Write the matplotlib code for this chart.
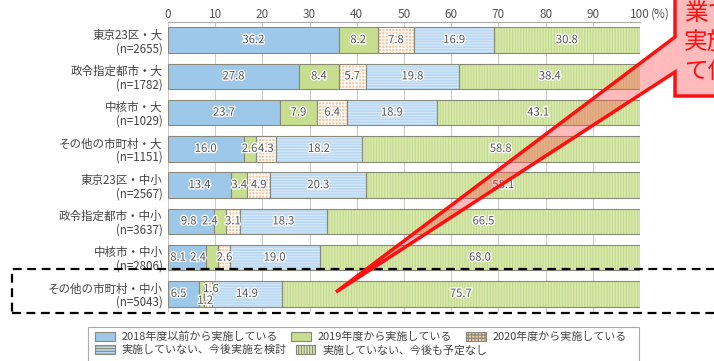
import numpy as np
import matplotlib
matplotlib.use('Agg')
import matplotlib.pyplot as plt
import matplotlib.patheffects as pe
from matplotlib.patches import Patch, Rectangle, Polygon

plt.rcParams['font.family'] = ['Noto Sans CJK JP', 'DejaVu Sans']
plt.rcParams['hatch.linewidth'] = 0.8

# data
categories = ['東京23区・大\n(n=2655)', '政令指定都市・大\n(n=1782)', '中核市・大\n(n=1029)',
              'その他の市町村・大\n(n=1151)', '東京23区・中小\n(n=2567)', '政令指定都市・中小\n(n=3637)',
              '中核市・中小\n(n=2806)', 'その他の市町村・中小\n(n=5043)']
series_names = ['2018年度以前から実施している', '2019年度から実施している', '2020年度から実施している',
                '実施していない、今後実施を検討', '実施していない、今後も予定なし']
s2018 = [36.2, 27.8, 23.7, 16.0, 13.4, 9.8, 8.1, 6.5]
s2019 = [8.2, 8.4, 7.9, 2.6, 3.4, 2.4, 2.4, 1.2]
s2020 = [7.8, 5.7, 6.4, 4.3, 4.9, 3.1, 2.6, 1.6]
s_plan = [16.9, 19.8, 18.9, 18.2, 20.3, 18.3, 19.0, 14.9]
s_none = [30.8, 38.4, 43.1, 58.8, 58.1, 66.5, 68.0, 75.7]
ticks = [0, 10, 20, 30, 40, 50, 60, 70, 80, 90, 100]

series = [s2018, s2019, s2020, s_plan, s_none]
faces = ['#9ec8ea', '#c6de8e', '#f6c8a2', '#b9d8f3', '#d9e9ae']
hatches = [None, None, '+++++', '------', '||||||']
hcolors = [None, None, '#ffffff', '#d6e8f8', '#c3da8c']

# small label nudges (row, series) -> (dx, dy) so narrow segments stay readable
nudges = {(5, 0): (-0.5, 0), (5, 1): (-2.1, 0),
          (6, 0): (-1.9, 0), (6, 1): (-2.9, 0), (6, 2): (0.2, 0),
          (7, 0): (-1.0, 0), (7, 1): (0.8, 0.19), (7, 2): (0.6, -0.13)}

fig = plt.figure(figsize=(7.14, 3.61), dpi=100)
ax = fig.add_axes([168/714, 1-312/361, 472/714, 290/361])

y = np.arange(len(categories))
left = np.zeros(len(categories))
txt_fx = [pe.withStroke(linewidth=2, foreground='white')]
for i, vals in enumerate(series):
    vals = np.array(vals)
    if hatches[i]:
        ax.barh(y, vals, left=left, height=0.7, color=faces[i], hatch=hatches[i],
                edgecolor=hcolors[i], linewidth=0, zorder=2)
        ax.barh(y, vals, left=left, height=0.7, fill=False, edgecolor='#8a8a7a',
                linewidth=0.8, zorder=3)
    else:
        ax.barh(y, vals, left=left, height=0.7, color=faces[i], edgecolor='#8a8a7a',
                linewidth=0.8, zorder=3)
    for j, v in enumerate(vals):
        dx, dy = nudges.get((j, i), (0, 0))
        ax.text(left[j] + v / 2 + dx, y[j] + dy, f'{v:.1f}', ha='center', va='center',
                fontsize=8.1, color='#555555', zorder=5, path_effects=txt_fx)
    left += vals

ax.set_xlim(0, 100)
ax.set_ylim(7.5, -0.5)
ax.set_yticks(y)
ax.set_yticklabels(categories, fontsize=8.3, color='#444444', linespacing=1.05)
ax.xaxis.tick_top()
ax.set_xticks(ticks)
ax.set_xticklabels([str(t) for t in ticks], fontsize=8.5, color='#555555')
ax.tick_params(axis='x', length=0, pad=1)
ax.tick_params(axis='y', length=0, pad=4)
ax.annotate('(%)', xy=(100, 1), xycoords=ax.get_xaxis_transform(),
            xytext=(8, 1), textcoords='offset points', fontsize=8.5, color='#555555',
            ha='left', va='bottom', annotation_clip=False)
for t in ticks:
    ax.axvline(t, color='#cccccc', linewidth=0.8, zorder=1)
for s in ['left', 'right', 'bottom']:
    ax.spines[s].set_visible(False)
ax.spines['top'].set_color('#aaaaaa')
ax.spines['top'].set_linewidth(0.8)

# legend: frame plus two rows
fig.patches.append(Rectangle((88/714, 1-375/361), 551/714, 48/361, transform=fig.transFigure,
                             fill=False, edgecolor='#aaaaaa', linewidth=0.8))

def make_handle(i):
    return Patch(facecolor=faces[i], hatch=hatches[i], edgecolor='#8a8a7a',
                 linewidth=0.8, label=series_names[i])

leg_kw = dict(fontsize=7.9, frameon=False, handlelength=1.8, handleheight=0.75,
              handletextpad=0.6, borderpad=0, borderaxespad=0, loc='center left')
leg1 = fig.legend(handles=[make_handle(i) for i in [0, 1, 2]], ncol=3, columnspacing=1.25,
                  bbox_to_anchor=(95/714, 1-337/361), **leg_kw)
leg2 = fig.legend(handles=[make_handle(i) for i in [3, 4]], ncol=2, columnspacing=0.85,
                  bbox_to_anchor=(95/714, 1-350/361), **leg_kw)
for leg in [leg1, leg2]:
    for t in leg.get_texts():
        t.set_color('#444444')

# dashed highlight box around the last row
fig.patches.append(Rectangle((12/714, 1-313/361), 720/714, 44/361, transform=fig.transFigure,
                             fill=False, edgecolor='black', linestyle=(0, (4, 2.5)),
                             linewidth=1.6, zorder=6))

# red callout (box and pointer as one outline)
def fpt(px, py):
    return (px/714, 1-py/361)

callout = [fpt(675, -10), fpt(675, 37), fpt(336, 292), fpt(675, 72), fpt(675, 96),
           fpt(730, 96), fpt(730, -10)]
fig.patches.append(Polygon(callout, closed=True, transform=fig.transFigure,
                           facecolor=(1, 0.3, 0.3, 0.38), edgecolor='#ff1010',
                           linewidth=2.5, zorder=7, joinstyle='miter'))
for k, line in enumerate(['業で', '実施', 'て使']):
    fig.text(684/714, 1-(14+29*k)/361, line, fontsize=17, color='#ff1010',
             va='center', ha='left', zorder=9)

fig.savefig('out.png', dpi=100)
